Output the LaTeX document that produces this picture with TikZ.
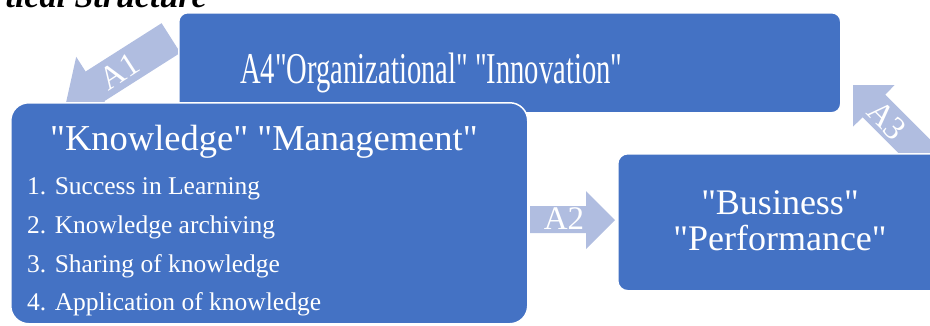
\documentclass[tikz,border=0pt]{standalone}
\usepackage{fontspec}
\usepackage{graphicx}
\setmainfont{Liberation Serif}[Ligatures=TeXOff]
\definecolor{boxblue}{RGB}{68,114,196}
\definecolor{arrowblue}{RGB}{176,189,224}
\tikzset{
  panel/.style={fill=boxblue, draw=white, line width=1.5pt, inner sep=0pt, anchor=north west},
  blockarrow/.style={fill=arrowblue, draw=none},
  paneltext/.style={text=white, inner sep=0pt},
  arrowtext/.style={text=white, inner sep=0pt, font=\fontsize{33}{33}\selectfont},
  itemtext/.style={paneltext, anchor=base west, font=\fontsize{25.5}{25.5}\selectfont},
}
\begin{document}
\begin{tikzpicture}[x=1pt,y=-1pt]
\useasboundingbox (0,0) rectangle (930,325);

% heading line, only its lower part lies on the page
\node[anchor=base east, inner sep=0pt, font=\fontsize{34}{34}\selectfont\bfseries\itshape] (heading) at (207,7) {tical Structure};

% block arrows between the panels
\fill[blockarrow] (161.6,23.2) -- (180.4,52.8) -- (104.4,101.1) -- (113.8,115.8)
  -- (65.5,105.1) -- (76.2,56.8) -- (85.6,71.5) -- cycle;
\fill[blockarrow] (530,206) -- (586,206) -- (586,191) -- (615,220)
  -- (586,249) -- (586,233) -- (530,233) -- cycle;
\fill[blockarrow] (853,85) -- (894.7,85) -- (885.2,94.6) -- (970.3,179.7)
  -- (947.7,202.3) -- (862.6,117.2) -- (853,126.7) -- cycle;

% panels
\node[panel, rounded corners=9pt, minimum width=662pt, minimum height=100pt] (innov) at (178,12) {};
\node[panel, rounded corners=10pt, minimum width=330pt, minimum height=137pt] (perf) at (617,153) {};
\node[panel, rounded corners=18pt, minimum width=517pt, minimum height=221pt] (km) at (10,102) {};

% arrow labels
\node[arrowtext, rotate=33] (a1) at (119,71) {A1};
\node[arrowtext] (a2) at (564,219) {A2};
\node[arrowtext, rotate=-45] (a3) at (887,120) {A3};

% panel texts
\node[paneltext, anchor=base west] (innovtext) at (240,83)
  {\scalebox{0.65}[1]{\fontsize{44}{44}\selectfont A4"Organizational" "Innovation"}};
\node[paneltext, anchor=base west, font=\fontsize{36.5}{36.5}\selectfont] (kmtitle) at (50,150)
  {"Knowledge" "Management"};
\node[itemtext] (kmi1) at (27,194) {1. Success in Learning};
\node[itemtext] (kmi2) at (27,233) {2. Knowledge archiving};
\node[itemtext] (kmi3) at (27,272) {3. Sharing of knowledge};
\node[itemtext] (kmi4) at (27,310) {4. Application of knowledge};
\node[paneltext, anchor=base, font=\fontsize{36}{36}\selectfont] (perfa) at (780,214) {"Business"};
\node[paneltext, anchor=base, font=\fontsize{36}{36}\selectfont] (perfb) at (780,250) {"Performance"};
\end{tikzpicture}
\end{document}
